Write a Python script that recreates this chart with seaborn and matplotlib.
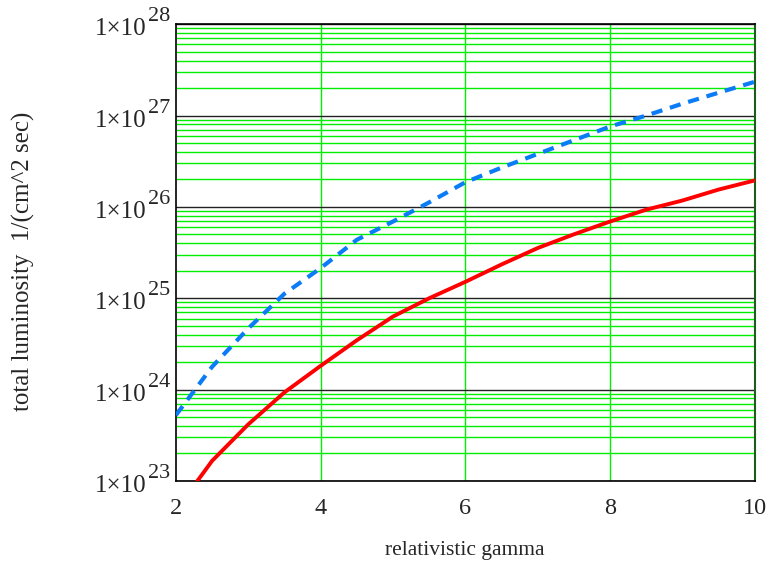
import numpy as np
import pandas as pd
import matplotlib
matplotlib.use("Agg")
import matplotlib.pyplot as plt
import seaborn as sns

# values (log10 of luminosity)
gamma_red = [2.25, 2.5, 3.0, 3.5, 4.0, 4.5, 5.0, 5.5, 6.0, 6.5, 7.0, 7.5, 8.0, 8.5, 9.0, 9.5, 10.0]
log_red = [22.95, 23.22, 23.62, 23.97, 24.26, 24.54, 24.80, 25.00, 25.18, 25.37, 25.55, 25.70, 25.84, 25.97, 26.07, 26.19, 26.29]

gamma_blue = [2.0, 2.5, 3.0, 3.5, 4.0, 4.5, 5.0, 5.5, 6.0, 6.5, 7.0, 7.5, 8.0, 8.5, 9.0, 9.5, 10.0]
log_blue = [23.72, 24.25, 24.67, 25.05, 25.33, 25.64, 25.84, 26.05, 26.27, 26.43, 26.58, 26.73, 26.88, 27.00, 27.13, 27.25, 27.37]

x_ticks = [2, 4, 6, 8, 10]
y_decades = [23, 24, 25, 26, 27, 28]

red = pd.DataFrame({"gamma": gamma_red, "lum": np.power(10.0, log_red)})
blue = pd.DataFrame({"gamma": gamma_blue, "lum": np.power(10.0, log_blue)})

sns.set_style("white")
plt.rcParams["font.family"] = ["Liberation Serif", "DejaVu Serif"]

fig = plt.figure(figsize=(7.75, 5.76), dpi=100)
ax = fig.add_axes([0.227, 0.165, 0.747, 0.793])
ax.set_yscale("log")
ax.set_xlim(2, 10)
ax.set_ylim(1e23, 1e28)

# grid: green minor lines, black decade lines, green verticals
for d in y_decades[:-1]:
    for m in range(2, 10):
        ax.axhline(m * 10.0 ** d, color="#00ee00", lw=1.0, zorder=1)
for d in y_decades:
    ax.axhline(10.0 ** d, color="#222222", lw=1.0, zorder=1.5)
for xv in x_ticks[1:-1]:
    ax.axvline(xv, color="#00ee00", lw=1.0, zorder=1)

sns.lineplot(data=blue, x="gamma", y="lum", ax=ax, color="#0a7cf5", lw=3.0,
             linestyle=(0, (2.7, 1.9)), zorder=3)
sns.lineplot(data=red, x="gamma", y="lum", ax=ax, color="#ff0000", lw=2.8, zorder=3)

ax.set_xticks(x_ticks)
ax.set_xticklabels([str(v) for v in x_ticks])
ax.set_yticks([10.0 ** d for d in y_decades])
ax.set_yticklabels([])
ax.yaxis.set_minor_locator(matplotlib.ticker.NullLocator())
ax.tick_params(axis="both", length=0)
ax.tick_params(axis="x", labelsize=17.5, pad=12)

# y tick labels "1x10^n" with a big exponent
ytr = ax.get_yaxis_transform()
for d in y_decades:
    ax.text(-0.0515, 10.0 ** d * 0.758, "1\u00d710", transform=ytr, ha="right", va="baseline",
            fontsize=18, clip_on=False)
    ax.text(-0.049, 10.0 ** d * 1.079, str(d), transform=ytr, ha="left", va="baseline",
            fontsize=16, clip_on=False)

for s in ["left", "bottom", "top"]:
    ax.spines[s].set_color("black")
    ax.spines[s].set_linewidth(1.2)
ax.spines["right"].set_color("#1f5a1f")
ax.spines["right"].set_linewidth(1.5)

ax.set_xlabel("")
ax.set_ylabel("")
fig.text(465 / 775, 1 - 551 / 576, "relativistic gamma", fontsize=15.5, ha="center", va="center")
fig.text(23 / 775, 1 - 261 / 576, "total luminosity  1/(cm^2 sec)", fontsize=18,
         rotation=90, ha="center", va="center")

fig.savefig("out.png", dpi=100)
